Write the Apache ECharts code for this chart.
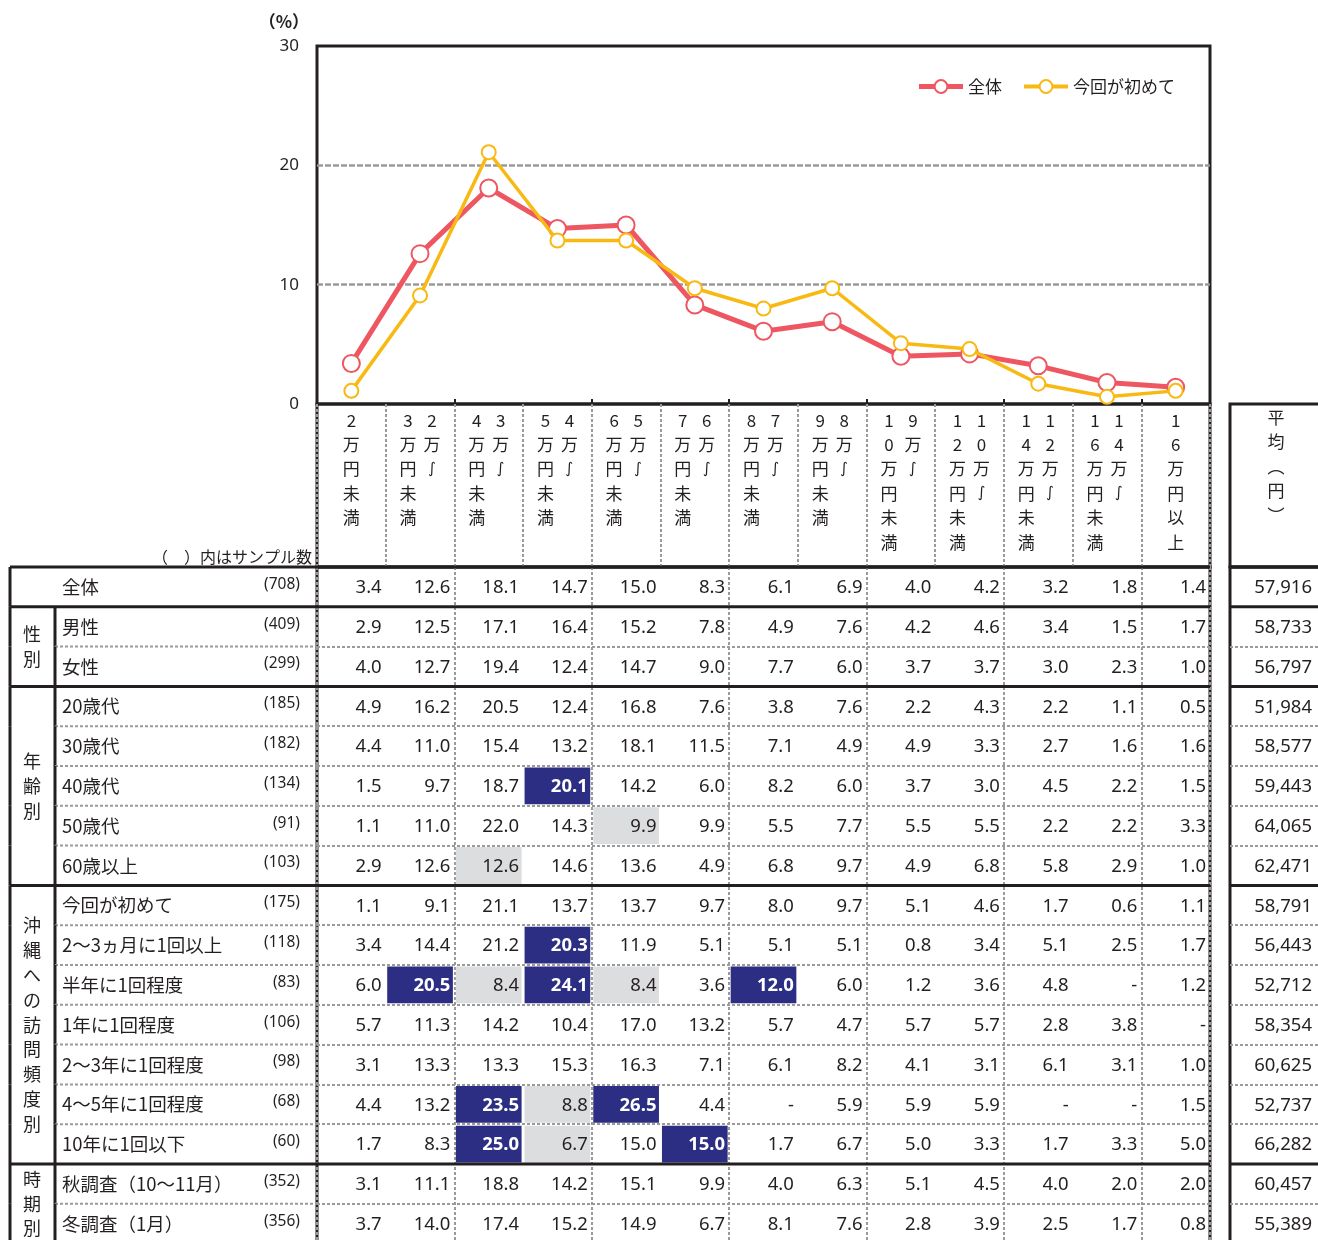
<!DOCTYPE html>
<html><head><meta charset="utf-8">
<script src="https://cdn.jsdelivr.net/npm/echarts@6/dist/echarts.min.js"></script>
<style>html,body{margin:0;padding:0;background:#fff}#c{width:1318px;height:1240px}</style>
</head><body><div id="c"></div><script>
// ---------- DATA ----------
const categories = ['2万円未満','2万～3万円未満','3万～4万円未満','4万～5万円未満','5万～6万円未満','6万～7万円未満','7万～8万円未満','8万～9万円未満','9万～10万円未満','10万～12万円未満','12万～14万円未満','14万～16万円未満','16万円以上'];
const yTicks = [0, 10, 20, 30];
const lineOverall   = [3.4, 12.6, 18.1, 14.7, 15.0, 8.3, 6.1, 6.9, 4.0, 4.2, 3.2, 1.8, 1.4];
const lineFirstTime = [1.1, 9.1, 21.1, 13.7, 13.7, 9.7, 8.0, 9.7, 5.1, 4.6, 1.7, 0.6, 1.1];
const avgHeader = '平均（円）';
const rowLabels = ['全体','男性','女性','20歳代','30歳代','40歳代','50歳代','60歳以上','今回が初めて','2～3ヵ月に1回以上','半年に1回程度','1年に1回程度','2～3年に1回程度','4～5年に1回程度','10年に1回以下','秋調査（10～11月）','冬調査（1月）'];
const sampleSizes = [708,409,299,185,182,134,91,103,175,118,83,106,98,68,60,352,356];
const tableValues = [
  ['3.4','12.6','18.1','14.7','15.0','8.3','6.1','6.9','4.0','4.2','3.2','1.8','1.4'],
  ['2.9','12.5','17.1','16.4','15.2','7.8','4.9','7.6','4.2','4.6','3.4','1.5','1.7'],
  ['4.0','12.7','19.4','12.4','14.7','9.0','7.7','6.0','3.7','3.7','3.0','2.3','1.0'],
  ['4.9','16.2','20.5','12.4','16.8','7.6','3.8','7.6','2.2','4.3','2.2','1.1','0.5'],
  ['4.4','11.0','15.4','13.2','18.1','11.5','7.1','4.9','4.9','3.3','2.7','1.6','1.6'],
  ['1.5','9.7','18.7','20.1','14.2','6.0','8.2','6.0','3.7','3.0','4.5','2.2','1.5'],
  ['1.1','11.0','22.0','14.3','9.9','9.9','5.5','7.7','5.5','5.5','2.2','2.2','3.3'],
  ['2.9','12.6','12.6','14.6','13.6','4.9','6.8','9.7','4.9','6.8','5.8','2.9','1.0'],
  ['1.1','9.1','21.1','13.7','13.7','9.7','8.0','9.7','5.1','4.6','1.7','0.6','1.1'],
  ['3.4','14.4','21.2','20.3','11.9','5.1','5.1','5.1','0.8','3.4','5.1','2.5','1.7'],
  ['6.0','20.5','8.4','24.1','8.4','3.6','12.0','6.0','1.2','3.6','4.8','-','1.2'],
  ['5.7','11.3','14.2','10.4','17.0','13.2','5.7','4.7','5.7','5.7','2.8','3.8','-'],
  ['3.1','13.3','13.3','15.3','16.3','7.1','6.1','8.2','4.1','3.1','6.1','3.1','1.0'],
  ['4.4','13.2','23.5','8.8','26.5','4.4','-','5.9','5.9','5.9','-','-','1.5'],
  ['1.7','8.3','25.0','6.7','15.0','15.0','1.7','6.7','5.0','3.3','1.7','3.3','5.0'],
  ['3.1','11.1','18.8','14.2','15.1','9.9','4.0','6.3','5.1','4.5','4.0','2.0','2.0'],
  ['3.7','14.0','17.4','15.2','14.9','6.7','8.1','7.6','2.8','3.9','2.5','1.7','0.8']
];
const averages = ['57,916','58,733','56,797','51,984','58,577','59,443','64,065','62,471','58,791','56,443','52,712','58,354','60,625','52,737','66,282','60,457','55,389'];
const groups = [
  {label:'', start:0, end:0},
  {label:'性別', start:1, end:2},
  {label:'年齢別', start:3, end:7},
  {label:'沖縄への訪問頻度別', start:8, end:14},
  {label:'時期別', start:15, end:16}
];
// [row, col, kind]  hi = navy, lo = grey
const highlights = [
  [5,3,'hi'],[6,4,'lo'],[7,2,'lo'],[9,3,'hi'],
  [10,1,'hi'],[10,2,'lo'],[10,3,'hi'],[10,4,'lo'],[10,6,'hi'],
  [13,2,'hi'],[13,3,'lo'],[13,4,'hi'],
  [14,2,'hi'],[14,3,'lo'],[14,5,'hi']
];

// ---------- STYLE ----------
const INK = '#231F20', RED = '#EE5761', YEL = '#F9B913', NAVY = '#2B2E83', LIGHT = '#DCDDDE', DOT = '#9A9A9A';
const JP = "'Noto Sans CJK JP', sans-serif";
const NUM = "'Noto Sans', 'Noto Sans CJK JP', sans-serif";
const ROW_H = 39.8;
const dotted = {stroke: DOT, lineWidth: 2, lineDash: [3, 2]};
const thick = {stroke: INK, lineWidth: 3};
const splitDotted = {show: true, lineStyle: {color: DOT, width: 2, type: [3, 2]}};

function kindOf(row, col) {
  const h = highlights.find(d => d[0] === row && d[1] === col);
  return h ? h[2] : null;
}
function groupOf(row) { return groups.find(g => row >= g.start && row <= g.end); }

function verticalHeader(name) {
  const parts = name.split('～');
  const cols = parts.length === 2 ? [[...parts[1]], [...parts[0], '～']] : [[...name]];
  const n = Math.max(...cols.map(c => c.length));
  const lines = [];
  for (let i = 0; i < n; i++) lines.push(cols.map(c => {
    const ch = c[i] || '　';
    return ch === '～' ? '{tl|∫}' : '{ch|' + ch + '}';
  }).join(''));
  return lines.join('\n');
}
function verticalPlain(name) {
  return [...name].map(ch => ch === '（' ? '︵' : ch === '）' ? '︶' : ch).join('\n');
}
function lineEl(x1, y1, x2, y2, style) { return {type: 'line', shape: {x1, y1, x2, y2}, style}; }

function renderCell(params, api) {
  const col = api.value(0), row = api.value(1);
  const c = api.coord([col, row]);
  const s = api.size([1, 1]);
  const x0 = c[0] - s[0] / 2, y0 = c[1] - s[1] / 2;
  const kind = kindOf(row, col);
  const children = [];
  if (kind) children.push({type: 'rect', shape: {x: x0 + 1.5, y: y0 + 1.5, width: s[0] - 3, height: s[1] - 3}, style: {fill: kind === 'hi' ? NAVY : LIGHT}});
  children.push({type: 'text', style: {text: tableValues[row][col], x: x0 + s[0] - 4, y: c[1] + 1, align: 'right', verticalAlign: 'middle',
    fill: kind === 'hi' ? '#fff' : INK, fontSize: 18.5, fontWeight: kind === 'hi' ? 'bold' : 'normal', fontFamily: NUM}});
  return {type: 'group', children};
}
function renderAvg(params, api) {
  const row = api.value(1);
  const c = api.coord([0, row]);
  const s = api.size([1, 1]);
  const cs = params.coordSys;
  const top = c[1] - s[1] / 2;
  const g = groupOf(row);
  const children = [];
  if (g.start === row) children.push(lineEl(cs.x, top, cs.x + cs.width, top, thick));
  children.push({type: 'text', style: {text: averages[row], x: cs.x + 82, y: c[1] + 1, align: 'right', verticalAlign: 'middle', fill: INK, fontSize: 18.5, fontFamily: NUM}});
  return {type: 'group', children};
}
function renderFrame(params, api) {
  const row = api.value(1);
  const cs = params.coordSys;
  const c = api.coord([0, row]);
  const h = api.size([1, 1])[1];
  const top = c[1] - h / 2, bottom = top + h;
  const left = cs.x - 307, groupX = cs.x - 262, right = cs.x + cs.width;
  const g = groupOf(row);
  const children = [];
  if (g.start === row) children.push(lineEl(left, top, right, top, thick));
  else children.push(lineEl(groupX, top, cs.x, top, dotted));
  children.push(lineEl(left, top, left, bottom, thick));
  if (g.label) children.push(lineEl(groupX, top, groupX, bottom, thick));
  if (g.label && g.start === row) {
    const cy = top + h * (g.end - g.start + 1) / 2;
    children.push({type: 'text', style: {text: [...g.label].join('\n'), x: cs.x - 285, y: cy, align: 'center', verticalAlign: 'middle',
      lineHeight: 24.8, fontSize: 18, fontFamily: JP, fill: INK}});
  }
  return {type: 'group', children};
}

const cellData = [];
tableValues.forEach((r, ri) => r.forEach((v, ci) => cellData.push([ci, ri])));
const rowData = rowLabels.map((_, i) => [0, i]);

const tableH = rowLabels.length * ROW_H;
const gridBase = {show: true, borderColor: INK, borderWidth: 3, backgroundColor: 'transparent', containLabel: false, outerBoundsMode: 'none'};

const option = {
  animation: false,
  textStyle: {fontFamily: JP, color: INK},
  grid: [
    Object.assign({left: 317, top: 46, width: 893, height: 358}, gridBase),
    Object.assign({left: 317, top: 404, width: 893, height: 163}, gridBase),
    Object.assign({left: 317, top: 567, width: 893, height: tableH}, gridBase),
    Object.assign({left: 1230, top: 404, width: 92, height: 163}, gridBase),
    Object.assign({left: 1230, top: 567, width: 92, height: tableH}, gridBase)
  ],
  legend: {
    data: [
      {name: '全体', lineStyle: {width: 5}, itemStyle: {borderWidth: 2.5}},
      {name: '今回が初めて', lineStyle: {width: 4}, itemStyle: {borderWidth: 2.5}}
    ],
    top: 73, right: 138, itemWidth: 44, itemHeight: 16, itemGap: 20,
    textStyle: {fontSize: 17, color: INK, fontFamily: JP}
  },
  xAxis: [
    {gridIndex: 0, type: 'category', data: categories, boundaryGap: true,
     axisLine: {show: false, onZero: false}, axisTick: {show: true, inside: true, length: 5, lineStyle: {color: INK, width: 2}},
     axisLabel: {show: false}, splitLine: {show: false}},
    {gridIndex: 1, type: 'category', data: categories, position: 'top',
     axisLine: {show: false, onZero: false}, axisTick: {show: false},
     axisLabel: {show: true, inside: true, interval: 0, margin: 4, formatter: verticalHeader,
       rich: {ch: {width: 24, align: 'center', fontSize: 17, lineHeight: 24.4, color: INK, fontFamily: JP},
              tl: {width: 24, align: 'center', fontSize: 15, lineHeight: 24.4, color: INK, fontFamily: "'DejaVu Sans', sans-serif"}}},
     splitLine: splitDotted},
    {gridIndex: 2, type: 'category', data: categories, position: 'top',
     axisLine: {show: false, onZero: false}, axisTick: {show: false}, axisLabel: {show: false}, splitLine: splitDotted},
    {gridIndex: 3, type: 'category', data: [avgHeader], position: 'top',
     axisLine: {show: false, onZero: false}, axisTick: {show: false},
     axisLabel: {show: true, inside: true, margin: 1, formatter: verticalPlain, fontSize: 17, lineHeight: 24.5, color: INK, fontFamily: JP},
     splitLine: {show: false}},
    {gridIndex: 4, type: 'category', data: [avgHeader], position: 'top',
     axisLine: {show: false, onZero: false}, axisTick: {show: false}, axisLabel: {show: false}, splitLine: {show: false}}
  ],
  yAxis: [
    {gridIndex: 0, type: 'value', min: yTicks[0], max: yTicks[yTicks.length - 1], interval: 10,
     name: '（%）', nameLocation: 'end', nameGap: 24,
     nameTextStyle: {fontSize: 17, fontWeight: 'bold', color: INK, align: 'right', verticalAlign: 'middle', padding: [0, 8, 0, 0], fontFamily: JP},
     axisLine: {show: false}, axisTick: {show: false},
     axisLabel: {fontSize: 17, color: INK, margin: 18, fontFamily: NUM},
     splitLine: {show: true, showMinLine: false, showMaxLine: false, lineStyle: {color: '#9A9A9A', width: 2.5, type: [6, 2]}}},
    {gridIndex: 1, type: 'value', min: 0, max: 1, show: false},
    {gridIndex: 2, type: 'category', data: rowLabels, inverse: true,
     name: '（　）内はサンプル数', nameLocation: 'start', nameGap: 10,
     nameTextStyle: {fontSize: 16, color: INK, align: 'right', verticalAlign: 'middle', padding: [0, 5, 0, 0], fontFamily: JP},
     axisLine: {show: false}, axisTick: {show: false},
     axisLabel: {interval: 0, margin: 17,
       formatter: (v, i) => '{n|' + v + '}{c|(' + sampleSizes[i] + ')}',
       rich: {n: {width: 193, align: 'left', fontSize: 18.5, color: INK, fontFamily: JP},
              c: {width: 45, align: 'right', fontSize: 15.5, color: INK, fontFamily: NUM, padding: [0, 0, 5, 0]}}},
     splitLine: splitDotted},
    {gridIndex: 3, type: 'value', min: 0, max: 1, show: false},
    {gridIndex: 4, type: 'category', data: rowLabels, inverse: true,
     axisLine: {show: false}, axisTick: {show: false}, axisLabel: {show: false}, splitLine: splitDotted}
  ],
  series: [
    {name: '全体', type: 'line', xAxisIndex: 0, yAxisIndex: 0, data: lineOverall, z: 3,
     color: RED, lineStyle: {color: RED, width: 5}, symbol: 'emptyCircle', symbolSize: 17,
     itemStyle: {color: RED, borderColor: RED, borderWidth: 2.5}},
    {name: '今回が初めて', type: 'line', xAxisIndex: 0, yAxisIndex: 0, data: lineFirstTime, z: 4,
     color: YEL, lineStyle: {color: YEL, width: 3.5}, symbol: 'emptyCircle', symbolSize: 14,
     itemStyle: {color: YEL, borderColor: YEL, borderWidth: 2.5}},
    {name: 'cells', type: 'custom', xAxisIndex: 2, yAxisIndex: 2, data: cellData, encode: {x: 0, y: 1},
     renderItem: renderCell, silent: true, z: 2, clip: false},
    {name: 'frame', type: 'custom', xAxisIndex: 2, yAxisIndex: 2, data: rowData, encode: {x: 0, y: 1},
     renderItem: renderFrame, silent: true, z: 5, clip: false},
    {name: 'avg', type: 'custom', xAxisIndex: 4, yAxisIndex: 4, data: rowData, encode: {x: 0, y: 1},
     renderItem: renderAvg, silent: true, z: 5, clip: false}
  ]
};
const chart = echarts.init(document.getElementById('c'), null, {renderer: 'canvas'});
chart.setOption(option);
</script></body></html>
